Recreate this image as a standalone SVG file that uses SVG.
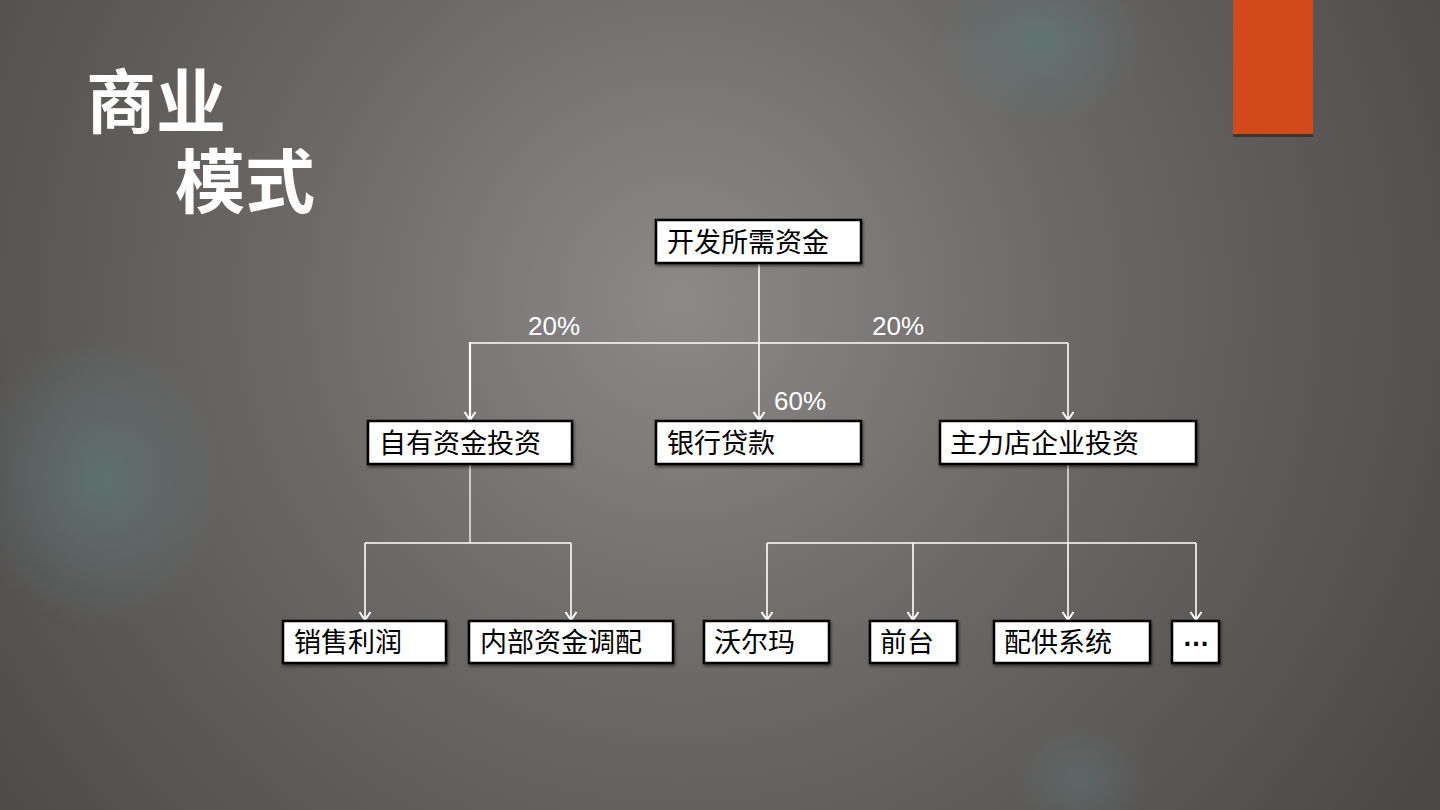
<svg xmlns="http://www.w3.org/2000/svg" width="1440" height="810" viewBox="0 0 1440 810">
<defs>
<radialGradient id="bg" cx="680" cy="300" r="900" gradientUnits="userSpaceOnUse">
<stop offset="0" stop-color="#8c8a89"/>
<stop offset="0.45" stop-color="#6a6766"/>
<stop offset="1" stop-color="#4a4747"/>
</radialGradient>
<radialGradient id="glow" cx="0.5" cy="0.5" r="0.5">
<stop offset="0" stop-color="#5f7a78" stop-opacity="0.7"/>
<stop offset="1" stop-color="#5f7a78" stop-opacity="0"/>
</radialGradient>
<filter id="sh" x="-10%" y="-10%" width="130%" height="140%">
<feDropShadow dx="1" dy="2" stdDeviation="1.5" flood-color="#000" flood-opacity="0.5"/>
</filter>
<marker id="arr" markerWidth="12" markerHeight="14" refX="10" refY="7" orient="auto" markerUnits="userSpaceOnUse" viewBox="0 0 12 14">
<path d="M2,1.5 L10,7 L2,12.5" fill="none" stroke="#fff" stroke-width="2"/>
</marker>
</defs>
<style>
.box{fill:#fff;stroke:#000;stroke-width:2.5;filter:url(#sh)}
.lbl{font-family:"Liberation Sans","Noto Sans CJK SC",sans-serif;font-size:27px;fill:#000}
.pct{font-family:"Liberation Sans","Noto Sans CJK SC",sans-serif;font-size:26px;fill:#fff}
.title{font-family:"Liberation Sans","Noto Sans CJK SC",sans-serif;font-size:70px;font-weight:bold;fill:#fff}
.ln{fill:none;stroke:#fff;stroke-width:1.3}
.la{fill:none;stroke:#fff;stroke-width:1.6;marker-end:url(#arr)}
</style>
<rect width="1440" height="810" fill="url(#bg)"/>
<ellipse cx="1040" cy="40" rx="110" ry="90" fill="url(#glow)"/>
<ellipse cx="100" cy="480" rx="130" ry="150" fill="url(#glow)"/>
<ellipse cx="1080" cy="780" rx="70" ry="60" fill="url(#glow)" opacity="0.6"/>
<rect x="1233" y="0" width="80" height="137" fill="#3a2a22" opacity="0.8"/>
<rect x="1233" y="0" width="80" height="134" fill="#d34a1a"/>
<g id="title">
<text class="title" x="86" y="128">商业</text>
<text class="title" x="175" y="208">模式</text>
</g>
<g id="connectors">
<line class="la" x1="759" y1="263" x2="759" y2="420"/>
<polyline class="ln" points="470,343 1068,343"/>
<line class="la" x1="470" y1="342" x2="470" y2="420" style="stroke-width:2.2"/>
<line class="la" x1="1068" y1="343" x2="1068" y2="420"/>
<line class="ln" x1="470" y1="464" x2="470" y2="543"/>
<polyline class="ln" points="365,543 571,543"/>
<line class="la" x1="365" y1="543" x2="365" y2="620"/>
<line class="la" x1="571" y1="543" x2="571" y2="620"/>
<line class="ln" x1="1068" y1="464" x2="1068" y2="543"/>
<polyline class="ln" points="767,543 1196,543"/>
<line class="la" x1="767" y1="543" x2="767" y2="620"/>
<line class="la" x1="913" y1="543" x2="913" y2="620"/>
<line class="la" x1="1068" y1="543" x2="1068" y2="620"/>
<line class="la" x1="1196" y1="543" x2="1196" y2="620"/>
<text class="pct" x="554" y="335" text-anchor="middle">20%</text>
<text class="pct" x="898" y="335" text-anchor="middle">20%</text>
<text class="pct" x="800" y="410" text-anchor="middle">60%</text>
</g>
<g id="n0"><rect class="box" x="656" y="220" width="205" height="43"/><text class="lbl" x="667" y="252">开发所需资金</text></g>
<g id="n1"><rect class="box" x="368" y="421" width="204" height="43"/><text class="lbl" x="379" y="453">自有资金投资</text></g>
<g id="n2"><rect class="box" x="656" y="421" width="205" height="43"/><text class="lbl" x="667" y="453">银行贷款</text></g>
<g id="n3"><rect class="box" x="940" y="421" width="256" height="43"/><text class="lbl" x="950" y="453">主力店企业投资</text></g>
<g id="n4"><rect class="box" x="283" y="621" width="163" height="42"/><text class="lbl" x="294" y="652">销售利润</text></g>
<g id="n5"><rect class="box" x="469" y="621" width="204" height="42"/><text class="lbl" x="480" y="652">内部资金调配</text></g>
<g id="n6"><rect class="box" x="704" y="621" width="125" height="42"/><text class="lbl" x="714" y="652">沃尔玛</text></g>
<g id="n7"><rect class="box" x="870" y="621" width="87" height="42"/><text class="lbl" x="880" y="652">前台</text></g>
<g id="n8"><rect class="box" x="994" y="621" width="156" height="42"/><text class="lbl" x="1004" y="652">配供系统</text></g>
<g id="n9"><rect class="box" x="1172" y="621" width="47" height="42"/><text class="lbl" x="1196" y="646" text-anchor="middle" style="font-weight:bold">…</text></g>
</svg>
